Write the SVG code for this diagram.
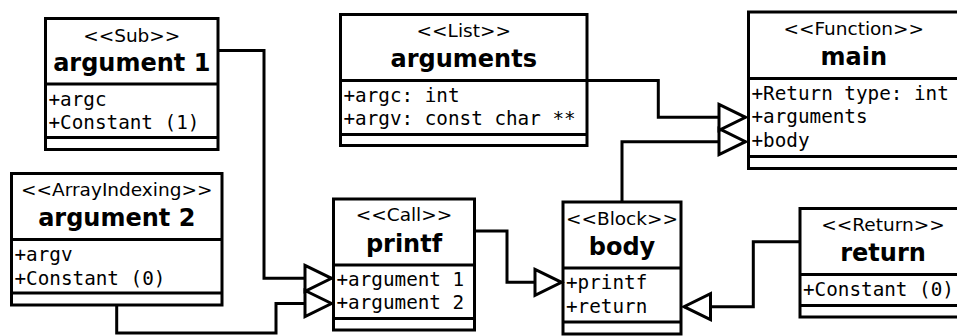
<svg xmlns="http://www.w3.org/2000/svg" width="957" height="336" viewBox="0 0 957 336">
  <style>
    .box { fill: #ffffff; stroke: #000000; stroke-width: 3; }
    .sep { stroke: #000000; stroke-width: 3; }
    .stereo { font-family: "DejaVu Sans", "Liberation Sans", sans-serif; font-size: 18.5px; text-anchor: middle; fill: #000; }
    .name { font-family: "DejaVu Sans", "Liberation Sans", sans-serif; font-size: 24px; font-weight: bold; text-anchor: middle; fill: #000; }
    .attr { font-family: "DejaVu Sans Mono", "Liberation Mono", monospace; font-size: 19.3px; fill: #000; }
    .link { fill: none; stroke: #000000; stroke-width: 3; marker-end: url(#hollow); }
  </style>
  <defs>
    <!-- hollow triangle head for generalization-style links -->
    <marker id="hollow" markerUnits="userSpaceOnUse" markerWidth="40" markerHeight="40" refX="26.5" refY="13" orient="auto" overflow="visible">
      <path d="M0,0 L26.5,13 L0,26 Z" fill="#ffffff" stroke="#000000" stroke-width="3" stroke-linejoin="miter"/>
    </marker>
  </defs>

  <rect x="0" y="0" width="957" height="336" fill="#ffffff"/>

  <g id="argument1">
    <rect class="box" x="45.5" y="18.5" width="172.5" height="131"/>
    <line class="sep" x1="45.5" y1="84" x2="218" y2="84"/>
    <line class="sep" x1="45.5" y1="137.5" x2="218" y2="137.5"/>
    <text class="stereo" x="131.75" y="41.5">&lt;&lt;Sub&gt;&gt;</text>
    <text class="name" x="131.75" y="71">argument 1</text>
    <text class="attr" x="48.5" y="105.5">+argc</text>
    <text class="attr" x="48.5" y="129">+Constant (1)</text>
  </g>

  <g id="argument2">
    <rect class="box" x="11.5" y="173.5" width="210.5" height="131.5"/>
    <line class="sep" x1="11.5" y1="239.5" x2="222" y2="239.5"/>
    <line class="sep" x1="11.5" y1="293" x2="222" y2="293"/>
    <text class="stereo" x="116.75" y="196">&lt;&lt;ArrayIndexing&gt;&gt;</text>
    <text class="name" x="116.75" y="226">argument 2</text>
    <text class="attr" x="14.5" y="261">+argv</text>
    <text class="attr" x="14.5" y="284.5">+Constant (0)</text>
  </g>

  <g id="arguments">
    <rect class="box" x="340.5" y="14.5" width="246.5" height="131"/>
    <line class="sep" x1="340.5" y1="80.5" x2="587" y2="80.5"/>
    <line class="sep" x1="340.5" y1="134.5" x2="587" y2="134.5"/>
    <text class="stereo" x="463.75" y="37">&lt;&lt;List&gt;&gt;</text>
    <text class="name" x="463.75" y="67">arguments</text>
    <text class="attr" x="343.5" y="101.5">+argc: int</text>
    <text class="attr" x="343.5" y="125">+argv: const char **</text>
  </g>

  <g id="main">
    <rect class="box" x="748.5" y="12" width="210.5" height="156.5"/>
    <line class="sep" x1="748.5" y1="78.5" x2="959" y2="78.5"/>
    <line class="sep" x1="748.5" y1="156.5" x2="959" y2="156.5"/>
    <text class="stereo" x="853.75" y="35">&lt;&lt;Function&gt;&gt;</text>
    <text class="name" x="853.75" y="65">main</text>
    <text class="attr" x="751.5" y="99.5">+Return type: int</text>
    <text class="attr" x="751.5" y="123">+arguments</text>
    <text class="attr" x="751.5" y="146.5">+body</text>
  </g>

  <g id="printf">
    <rect class="box" x="333.5" y="199" width="141" height="131"/>
    <line class="sep" x1="333.5" y1="265" x2="474.5" y2="265"/>
    <line class="sep" x1="333.5" y1="318.5" x2="474.5" y2="318.5"/>
    <text class="stereo" x="404" y="221">&lt;&lt;Call&gt;&gt;</text>
    <text class="name" x="404" y="251.5">printf</text>
    <text class="attr" x="336.5" y="285.5">+argument 1</text>
    <text class="attr" x="336.5" y="309">+argument 2</text>
  </g>

  <g id="body">
    <rect class="box" x="563" y="202" width="118" height="132"/>
    <line class="sep" x1="563" y1="268" x2="681" y2="268"/>
    <line class="sep" x1="563" y1="322" x2="681" y2="322"/>
    <text class="stereo" x="622" y="224.5">&lt;&lt;Block&gt;&gt;</text>
    <text class="name" x="622" y="254.5">body</text>
    <text class="attr" x="566" y="289">+printf</text>
    <text class="attr" x="566" y="312.5">+return</text>
  </g>

  <g id="return">
    <rect class="box" x="800" y="208.5" width="166" height="108.5"/>
    <line class="sep" x1="800" y1="274.5" x2="966" y2="274.5"/>
    <line class="sep" x1="800" y1="305.5" x2="966" y2="305.5"/>
    <text class="stereo" x="883" y="231">&lt;&lt;Return&gt;&gt;</text>
    <text class="name" x="883" y="261">return</text>
    <text class="attr" x="803" y="295.5">+Constant (0)</text>
  </g>

  <g id="connectors">
    <path class="link" d="M218,50.5 H264 V278.3 H331.5"/>
    <path class="link" d="M116.7,305 V333 H276 V303.5 H331.5"/>
    <path class="link" d="M474.5,231 H507 V282.3 H561.5"/>
    <path class="link" d="M800,241.7 H753.3 V306.7 H684"/>
    <path class="link" d="M622,202 V141.7 H745.5"/>
    <path class="link" d="M587,80.5 H658.3 V117.3 H745.5"/>
  </g>
</svg>
